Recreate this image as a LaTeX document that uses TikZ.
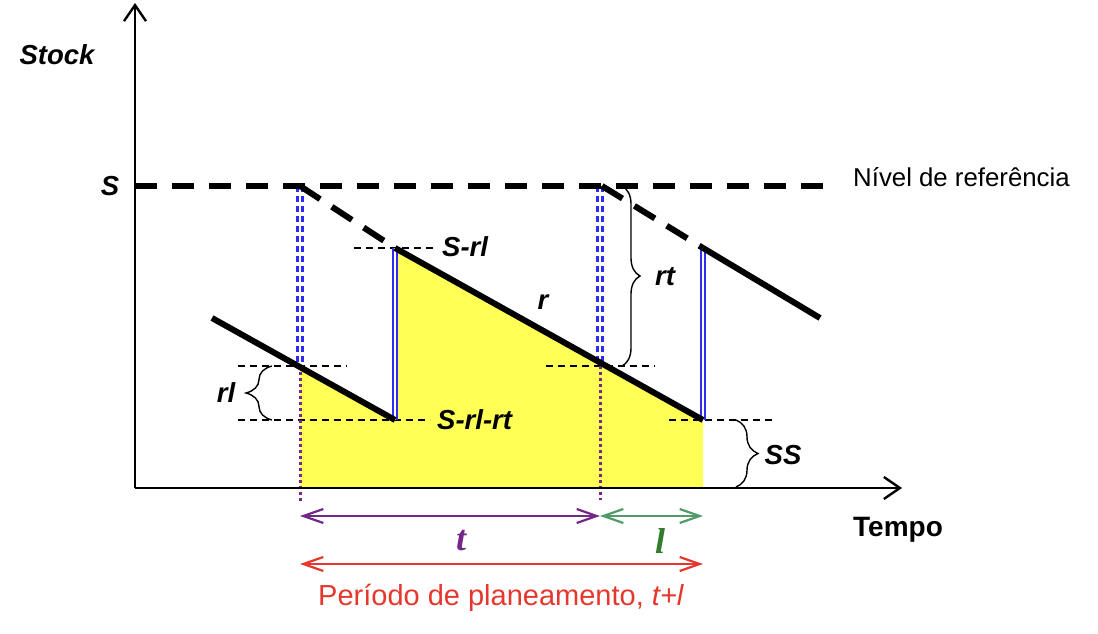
\documentclass[tikz,border=0pt]{standalone}
\usepackage{fontspec}
\setmainfont{Liberation Sans}
\newfontfamily\tfont{Liberation Serif}
\usetikzlibrary{arrows.meta,decorations.pathreplacing}
\definecolor{myyellow}{RGB}{255,255,85}
\definecolor{myblue}{RGB}{45,45,240}
\definecolor{mypurple}{RGB}{115,40,135}
\definecolor{mygreen}{RGB}{80,155,105}
\definecolor{mydkgreen}{RGB}{50,125,45}
\definecolor{myred}{RGB}{230,55,45}
\begin{document}
\begin{tikzpicture}[x=1pt,y=-1pt,
  lbl/.style={font=\fontsize{27.5}{30}\selectfont\bfseries\itshape, inner sep=0pt},
  plain/.style={font=\fontsize{25.8}{28}\selectfont, inner sep=0pt},
  axis/.style={line width=2.4pt, -{Straight Barb[length=16pt,width=22pt,line width=2.4pt]}},
  saw/.style={line width=6pt},
  sawdash/.style={line width=6pt, dash pattern=on 24pt off 14pt},
  refline/.style={line width=6pt, dash pattern=on 22pt off 15pt},
  guide/.style={line width=1.5pt, dash pattern=on 7pt off 5pt},
  repl/.style={draw=myblue, line width=1.8pt, double=white, double distance=2pt},
  orderline/.style={draw=myblue, line width=2.6pt, dash pattern=on 6pt off 4pt},
  lead/.style={draw=mypurple, line width=3pt, dash pattern=on 3pt off 3pt},
  span/.style={line width=2.2pt, {Straight Barb[length=20pt,width=14pt,line width=2.2pt]}-{Straight Barb[length=20pt,width=14pt,line width=2.2pt]}},
  brc/.style={line width=1.4pt, decorate, decoration={brace, amplitude=#1}},
]
\useasboundingbox (0,0) rectangle (1098,634);
% key points
\coordinate (O) at (135,488);
\coordinate (Ytop) at (135,3);
\coordinate (Xend) at (902,488);
\coordinate (Sl) at (135,186);
\coordinate (Sr) at (832,186);
\coordinate (P1) at (212,318);
\coordinate (Q1) at (300,366);
\coordinate (B1) at (395,420);
\coordinate (T1) at (395,248);
\coordinate (B2) at (703,420);
\coordinate (T2) at (703,248);
\coordinate (E2) at (820,318);
\coordinate (R1) at (300,186);
\coordinate (R2) at (602,186);
\coordinate (F1) at (300,488);
\coordinate (F2) at (703,488);
\coordinate (D1) at (300,502);
\coordinate (D2) at (600,500);

% yellow area
\fill[myyellow] (F1) -- (Q1) -- (B1) -- (T1) -- (B2) -- (F2) -- cycle;

% thin guides
\draw[guide] (354,248) -- (437,248);
\draw[guide] (238,366) -- (347,366);
\draw[guide] (238,420) -- (430,420);
\draw[guide] (546,366) -- (655,366);
\draw[guide] (669,420) -- (773,420);

% order lines (blue dashed doubles)
\draw[orderline] ([xshift=-2.6pt]R1) -- ([xshift=-2.6pt]Q1);
\draw[orderline] ([xshift=2.6pt]R1) -- ([xshift=2.6pt]Q1);
\draw[orderline] (597.4,186) -- (597.4,366);
\draw[orderline] (602.6,186) -- (602.6,366);

% replenishment lines
\draw[repl] (B1) -- (T1);
\draw[repl] (B2) -- (T2);

% lead-time dotted lines
\draw[lead] (Q1) -- (D1);
\draw[lead] (600,366) -- (D2);

% reference level
\draw[refline] (Sl) -- (Sr);

% stock curve
\draw[saw] (P1) -- (B1);
\draw[sawdash] (R1) -- (T1);
\draw[saw] (T1) -- (B2);
\draw[sawdash] (R2) -- (T2);
\draw[saw] (T2) -- (E2);

% axes
\draw[axis] (O) -- (Ytop);
\draw[axis] (O) -- (Xend);

% braces
\draw[brc=26pt] (272,420) -- (272,366);
\draw[brc=18pt] (622,186) -- (622,366);
\draw[brc=22pt] (736,420) -- (736,487);

% labels
\node[lbl] (stock) at (57,55) {Stock};
\node[lbl] (s) at (110,186) {S};
\node[plain, anchor=west] (nivel) at (853,177) {Nível de referência};
\node[font=\fontsize{28}{30}\selectfont\bfseries, inner sep=0pt] (tempo) at (898,530) {Tempo};
\node[lbl, anchor=west] (srl) at (442,247) {S-rl};
\node[lbl, anchor=west] (srlrt) at (437,420) {S-rl-rt};
\node[lbl] (r) at (543,302) {r};
\node[lbl] (rl) at (226,393) {rl};
\node[lbl] (rt) at (665,277) {rt};
\node[lbl] (ss) at (783,455) {SS};

% bottom spans
\coordinate (A1) at (300,516);
\coordinate (A2) at (600,516);
\coordinate (A3) at (703,516);
\coordinate (C1) at (300,564);
\coordinate (C2) at (703,564);
\draw[span, draw=mypurple] (A1) -- (A2);
\draw[span, draw=mygreen] (A2) -- (A3);
\draw[span, draw=myred] (C1) -- (C2);
\node[text=mypurple, inner sep=0pt, font=\tfont\fontsize{36}{38}\selectfont\bfseries\itshape] (t) at (461,541) {t};
\node[text=mydkgreen, inner sep=0pt, font=\tfont\fontsize{36}{38}\selectfont\bfseries\itshape] (l) at (660,541) {l};
\node[text=myred, inner sep=0pt, anchor=west, font=\fontsize{29}{32}\selectfont] (periodo) at (318,598) {Período de planeamento, \textit{t+l}};
\end{tikzpicture}
\end{document}
